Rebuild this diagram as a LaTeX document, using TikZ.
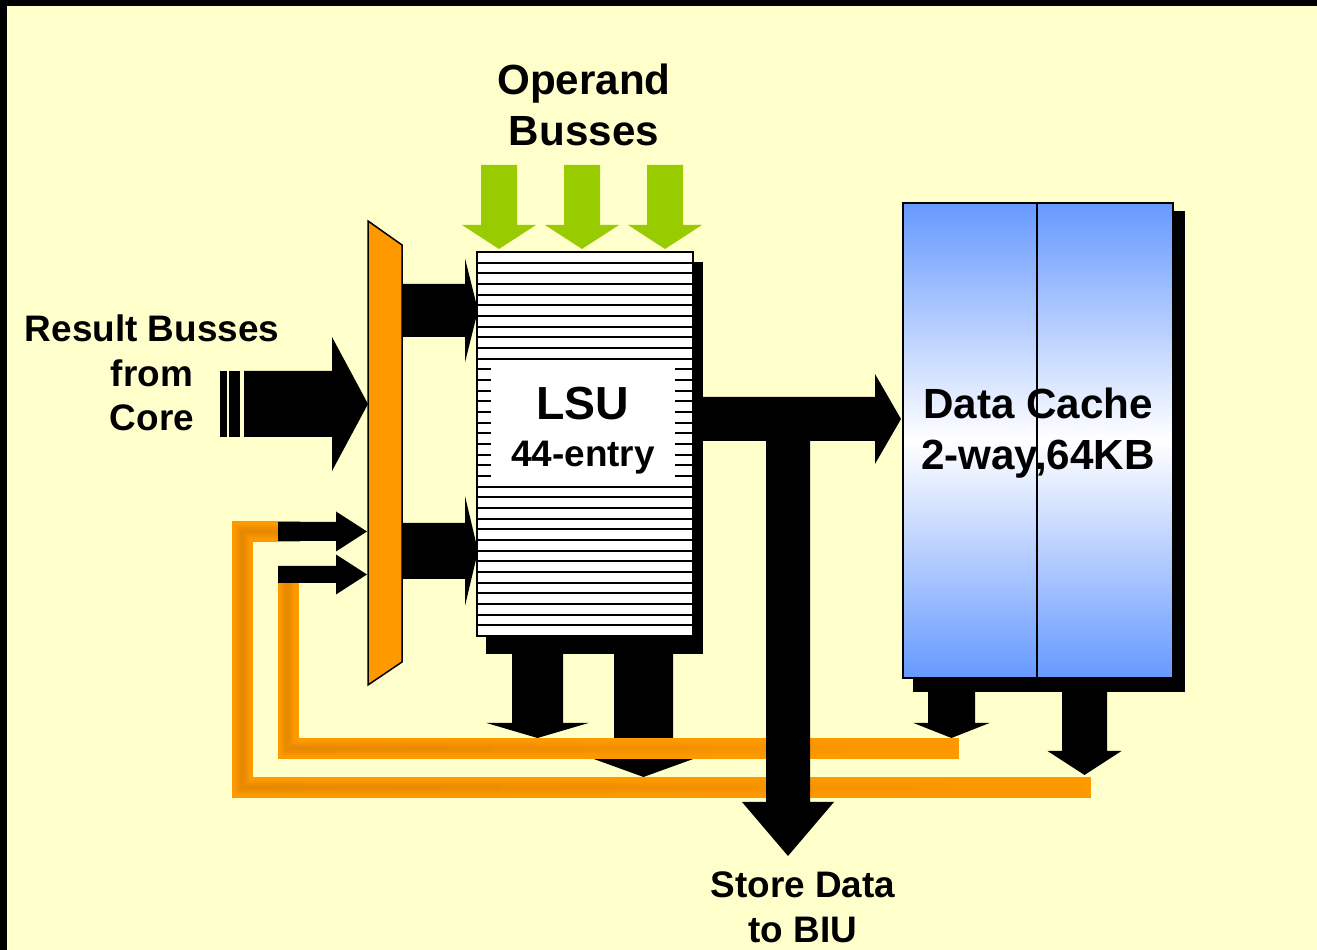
\documentclass[tikz,border=0pt]{standalone}
\usepackage{fontspec}
\setmainfont{Liberation Sans}
\usetikzlibrary{positioning, fadings}
\definecolor{bgyellow}{HTML}{FFFFCC}
\definecolor{busgreen}{HTML}{99CC00}
\definecolor{muxorange}{HTML}{FF9900}
\definecolor{cacheblue}{HTML}{6699FF}
\definecolor{loopshade}{HTML}{B86E00}
\tikzfading[name=fade right, left color=transparent!0, right color=transparent!100]
\tikzset{
  bigtext/.style={font=\bfseries\fontsize{12pt}{14.6pt}\selectfont, align=center, inner sep=0pt},
  smalltext/.style={font=\bfseries\fontsize{10.5pt}{12.7pt}\selectfont, align=center, inner sep=0pt},
  stripe/.style={line width=0.2mm},
  feedback/.style={draw=muxorange, line width=2.1mm},
  outline/.style={line width=0.15mm}
}
% flecha de bloque hacia abajo: x centro, y inicio, y cabeza, y punta, semiancho cuerpo, semiancho cabeza, color
\newcommand{\barrowdown}[7]{
    \fill[#7] (#1-#5,#2) -- (#1+#5,#2) -- (#1+#5,#3) -- (#1+#6,#3) -- (#1,#4) -- (#1-#6,#3) -- (#1-#5,#3) -- cycle;
}
% flecha de bloque hacia la derecha: y centro, x inicio, x cabeza, x punta, semiancho cuerpo, semiancho cabeza, color
\newcommand{\barrowright}[7]{
    \fill[#7] (#2,#1-#5) -- (#3,#1-#5) -- (#3,#1-#6) -- (#4,#1) -- (#3,#1+#6) -- (#3,#1+#5) -- (#2,#1+#5) -- cycle;
}
\begin{document}
\begin{tikzpicture}[x=0.1mm, y=-0.1mm]
    \useasboundingbox (0,0) rectangle (1317,950);

    % Fondo y marco
    \fill[black] (0,0) rectangle (1317,950);
    \fill[bgyellow] (7,6) rectangle (1317,950);

    % Buses de operandos
    \node[bigtext] (operand) at (584,105) {Operand\\Busses};
    \foreach \gx in {499,582,665} {
        \barrowdown{\gx}{165}{225}{249}{18}{37}{busgreen}
    }

    % Buses de resultados
    \node[smalltext] (result) at (152,373) {Result Busses\\from\\Core};
    \fill (220,371) rectangle (227,437);
    \fill (229,371) rectangle (240,437);
    \barrowright{404}{244}{332}{368}{33}{67}{black}

    % Multiplexor
    \draw[outline, fill=muxorange] (368,221) -- (402,245) -- (402,662) -- (368,685) -- cycle;

    % LSU
    \fill (486,262) rectangle (703,654);
    \draw[outline, fill=white] (477,252) rectangle (693,636);
    \foreach \k in {1,...,35} {
        \draw[stripe] (477,252+\k*10.667) -- (693,252+\k*10.667);
    }
    \fill[white] (491,360) rectangle (675,486);
    \node[font=\bfseries\fontsize{13.2pt}{15pt}\selectfont, anchor=base, inner sep=0pt] (lsuname) at (583,420) {LSU};
    \node[smalltext, anchor=base] (lsusize) at (583,467) {44-entry};

    % Multiplexor -> LSU
    \barrowright{310.5}{402}{465}{478}{26.5}{52}{black}
    \barrowright{551}{402}{465}{478}{28}{55}{black}

    % Data Cache
    \fill (913,211) rectangle (1185,692);
    \shade[top color=cacheblue, bottom color=cacheblue, middle color=white] (903,203) rectangle (1173,678);
    \draw[outline] (903,203) rectangle (1173,678);
    \draw[line width=0.12mm] (1037,203) -- (1037,678);
    \node[bigtext] (cache) at (1038,433) {Data Cache\\2-way,64KB};

    % Salidas hacia abajo
    \barrowdown{537.5}{640}{723}{738}{25.5}{51}{black}
    \barrowdown{643.5}{640}{756}{777}{29.5}{58}{black}
    \barrowdown{951.5}{685}{723}{738}{23.5}{38}{black}
    \barrowdown{1084.5}{685}{751}{775}{22.5}{37}{black}

    % Lazos de realimentacion
    \draw[feedback] (300,531.5) -- (242.5,531.5) -- (242.5,788) -- (1091,788);
    \draw[feedback] (288,578) -- (288,748.5) -- (959,748.5);
    \foreach \w in {1.3mm, 0.9mm, 0.5mm} {
        \draw[loopshade, line width=\w, opacity=0.12, path fading=fade right] (300,531.5) -- (242.5,531.5) -- (242.5,788) -- (1091,788);
        \draw[loopshade, line width=\w, opacity=0.12, path fading=fade right] (288,582) -- (288,748.5) -- (959,748.5);
    }
    \barrowright{531.5}{278}{336}{367}{9.5}{20}{black}
    \barrowright{574.5}{278}{336}{367}{8.5}{20}{black}

    % LSU -> Data Cache y datos de store
    \barrowright{419}{693}{875}{901}{22}{45}{black}
    \barrowdown{788}{419}{802}{856}{22}{46}{black}
    \node[smalltext] (store) at (803,907) {Store Data\\to BIU};

\end{tikzpicture}
\end{document}
